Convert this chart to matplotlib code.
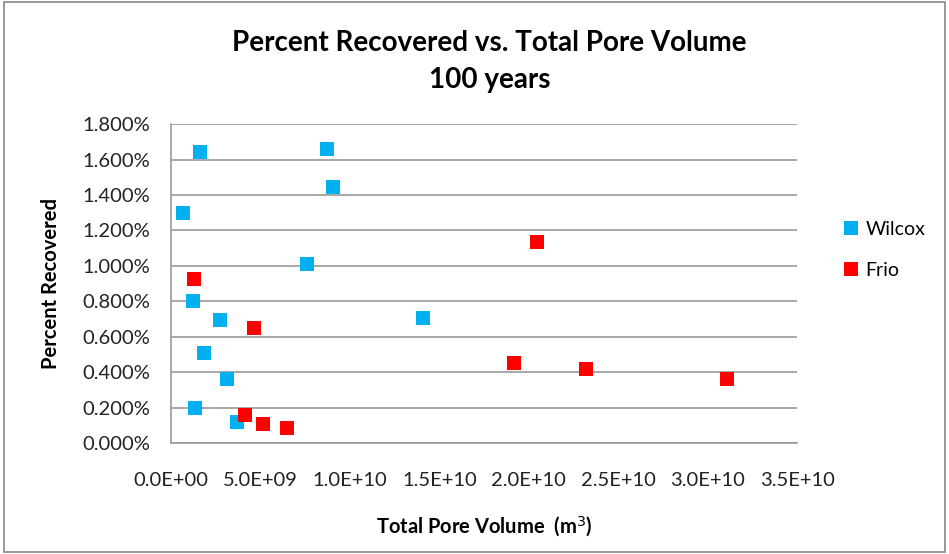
import matplotlib.pyplot as plt
from matplotlib.patches import Rectangle
from matplotlib.ticker import FuncFormatter, MultipleLocator

plt.rcParams['font.family'] = ['Lato', 'DejaVu Sans']

# pore volume (m^3) and percent recovered
wilcox_volume = [1.62e9, 8.75e9, 9.05e9, 0.70e9, 7.62e9, 1.22e9, 2.75e9,
                 14.1e9, 1.87e9, 3.12e9, 1.35e9, 3.72e9]
wilcox_recovered = [1.643, 1.662, 1.447, 1.297, 1.012, 0.803, 0.695,
                    0.706, 0.511, 0.361, 0.196, 0.118]

frio_volume = [1.30e9, 4.65e9, 4.15e9, 5.15e9, 6.48e9,
               20.45e9, 19.2e9, 23.2e9, 31.1e9]
frio_recovered = [0.925, 0.647, 0.159, 0.108, 0.085,
                  1.133, 0.453, 0.416, 0.360]

xticks = [0, 5e9, 1e10, 1.5e10, 2e10, 2.5e10, 3e10, 3.5e10]
xticklabels = ["0.0E+00", "5.0E+09", "1.0E+10", "1.5E+10",
               "2.0E+10", "2.5E+10", "3.0E+10", "3.5E+10"]

fig = plt.figure(figsize=(9.49, 5.54), dpi=100)
ax = fig.add_axes([0.180, 0.200, 0.660, 0.576])

ax.plot(wilcox_volume, wilcox_recovered, linestyle="none", marker="s",
        markersize=10.5, color="#00B0F0", markeredgewidth=0, label="Wilcox")
ax.plot(frio_volume, frio_recovered, linestyle="none", marker="s",
        markersize=10.5, color="#FF0000", markeredgewidth=0, label="Frio")

ax.set_xlim(0, 3.5e10)
ax.set_ylim(0, 1.8)
ax.set_xticks(xticks)
ax.set_xticklabels(xticklabels)
ax.yaxis.set_major_locator(MultipleLocator(0.2))
ax.yaxis.set_major_formatter(FuncFormatter(lambda v, p: f"{v:.3f}%"))
ax.tick_params(axis="both", length=0, labelsize=14.5, colors="#222222")
ax.tick_params(axis="y", pad=15)
ax.tick_params(axis="x", pad=21)

ax.grid(axis="y", color="#999999", linewidth=1.2)
ax.set_axisbelow(True)
for side in ["top", "right"]:
    ax.spines[side].set_visible(False)
for side in ["left", "bottom"]:
    ax.spines[side].set_color("#999999")
    ax.spines[side].set_linewidth(1.2)

ax.set_xlabel("Total Pore Volume  (m$^3$)", fontsize=14.5, fontweight="bold")
ax.set_ylabel("Percent Recovered", fontsize=14.5, fontweight="bold")
ax.xaxis.set_label_coords(0.5, -0.222)
ax.yaxis.set_label_coords(-0.176, 0.5)

fig.text(0.516, 0.922, "Percent Recovered vs. Total Pore Volume",
         ha="center", va="center", fontsize=20, fontweight="bold")
fig.text(0.516, 0.855, "100 years", ha="center", va="center",
         fontsize=20, fontweight="bold")

fig.legend(loc="center left", bbox_to_anchor=(0.879, 0.549), frameon=False,
           fontsize=14, handletextpad=0.3, labelspacing=1.2,
           handlelength=0.9, borderaxespad=0)

fig.add_artist(Rectangle((0.004, 0.004), 0.992, 0.992, transform=fig.transFigure,
                         fill=False, edgecolor="#888888", linewidth=1.2))

plt.savefig("out.png", dpi=100)
